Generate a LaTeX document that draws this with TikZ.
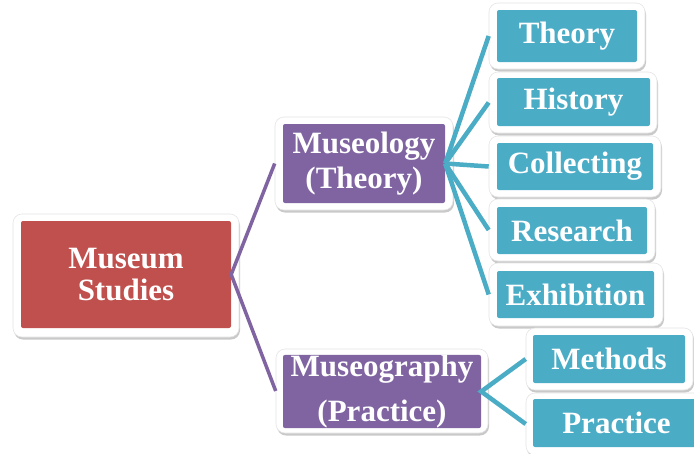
\documentclass[tikz,border=0pt]{standalone}
\usepackage{fontspec}
\setmainfont{Liberation Serif}
\usetikzlibrary{shadows}
\definecolor{msred}{HTML}{C0504D}
\definecolor{mpurple}{HTML}{8064A2}
\definecolor{mteal}{HTML}{4BACC6}
\tikzset{
  outerbox/.style={rectangle, rounded corners=9pt, fill=white, draw=black!10, line width=0.6pt, inner sep=0pt,
    drop shadow={shadow xshift=1pt, shadow yshift=-2.5pt, opacity=0.35, fill=black!60}},
  innerbox/.style={rectangle, rounded corners=2pt, inner sep=0pt, text=white,
    font=\bfseries\fontsize{31}{32}\selectfont, align=center},
  purpleline/.style={draw=mpurple, line width=3.5pt},
  tealline/.style={draw=mteal, line width=4.5pt}
}
\begin{document}
\begin{tikzpicture}[x=1pt,y=-1pt]
\clip (0,0) rectangle (694,453);
\fill[white] (0,0) rectangle (694,453);
% Museum Studies
\node[outerbox, minimum width=226pt, minimum height=123pt] (msO) at (126,275.5) {};
\node[innerbox, fill=msred, minimum width=210pt, minimum height=107pt] (ms) at (126,274.5) {Museum\\Studies};
% Museology
\node[outerbox, minimum width=178pt, minimum height=93pt] (mlO) at (364,163.5) {};
\node[innerbox, fill=mpurple, minimum width=162pt, minimum height=79pt, font=\bfseries\fontsize{31}{35}\selectfont] (ml) at (364,163.5) {Museology\\(Theory)};
% Museography
\node[outerbox, minimum width=212pt, minimum height=84pt] (mgO) at (382,391) {};
\node[innerbox, fill=mpurple, minimum width=198pt, minimum height=69pt, font=\bfseries\fontsize{31}{45}\selectfont] (mg) at (382,391.5) {Museography\\(Practice)};
% right column
\node[outerbox, minimum width=156pt, minimum height=66pt] (thO) at (567,36) {};
\node[innerbox, fill=mteal, minimum width=140pt, minimum height=52pt] (th) at (567,36) {Theory};
\node[outerbox, minimum width=168pt, minimum height=61pt] (hiO) at (573,102.5) {};
\node[innerbox, fill=mteal, minimum width=153pt, minimum height=48pt] (hi) at (573.5,102) {History};
\node[outerbox, minimum width=172pt, minimum height=61pt] (coO) at (575,166.5) {};
\node[innerbox, fill=mteal, minimum width=156pt, minimum height=47pt] (co) at (575,166.5) {Collecting};
\node[outerbox, minimum width=166pt, minimum height=62pt] (reO) at (572,230) {};
\node[innerbox, fill=mteal, minimum width=150pt, minimum height=47pt] (re) at (572,230.5) {Research};
\node[outerbox, minimum width=174pt, minimum height=63pt] (exO) at (576,294.5) {};
\node[innerbox, fill=mteal, minimum width=157pt, minimum height=47pt] (ex) at (575.5,294.5) {Exhibition};
\node[outerbox, minimum width=167pt, minimum height=62pt] (meO) at (609.5,359) {};
\node[innerbox, fill=mteal, minimum width=152pt, minimum height=48pt] (me) at (609,359) {Methods};
\node[outerbox, minimum width=181pt, minimum height=62pt] (prO) at (616.5,424) {};
\node[innerbox, fill=mteal, minimum width=167pt, minimum height=48pt] (pr) at (616.5,423) {Practice};
% connectors
\draw[purpleline] (mlO.west) -- (ms.east) -- (mgO.west);
\draw[tealline] (ml.east) -- (thO.west);
\draw[tealline] (ml.east) -- (hiO.west);
\draw[tealline] (ml.east) -- (coO.west);
\draw[tealline] (ml.east) -- (reO.west);
\draw[tealline] (ml.east) -- (exO.west);
\draw[tealline] (meO.west) -- (mg.east) -- (prO.west);
\end{tikzpicture}
\end{document}
